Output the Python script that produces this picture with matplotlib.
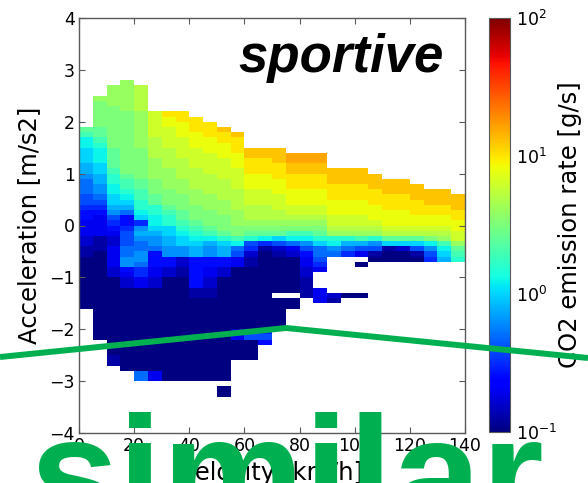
import numpy as np
import matplotlib
matplotlib.use("Agg")
import matplotlib.pyplot as plt
from matplotlib.colors import LogNorm
from matplotlib.lines import Line2D
from matplotlib.ticker import NullLocator

# Binning: 5 km/h in velocity, 0.1 m/s2 in acceleration
velocity_edges = np.arange(0, 141, 5)
accel_step = 0.1
accel_max = 2.8
accel_min = -3.3

# Upper acceleration edge of the first populated cell in each velocity bin
column_top = [1.9, 2.5, 2.7, 2.8, 2.7, 2.2, 2.2, 2.2, 2.1, 2.0, 1.9, 1.8, 1.5, 1.5,
              1.5, 1.4, 1.4, 1.4, 1.1, 1.1, 1.1, 1.0, 0.9, 0.9, 0.8, 0.7, 0.7, 0.6]

# Mean CO2 emission rate going down each velocity bin, one letter per 0.1 m/s2 cell:
# 'a' = 10^-1.0 g/s and every following letter adds 0.1 decade; '.' = no samples
column_rates = [
    "onllkkkjjihhhggfeedddccbb" + "a" * 10,
    "qpppppoonmlllkkjjiihgfeddddbbb" + "a" * 17,
    "qqqqppppppppoooonmmllkkjigfedccddddcc" + "a" * 15 + "bb",
    "qqqqqq" + "pppppppppppp" + "onnmlkjheefggghhiiedcc" + "a" * 16,
    "rrrrrqqqqqqqppppppoonnmmlkfijihhiihffdd" + "a" * 16 + "hh",
    "sssssrrrrqqqqpppoommllkjiiheeeddcc" + "a" * 16 + "dd",
    "uttssssrrrrqqqqppponmmkkjjiieecc" + "a" * 20,
    "uutttssssrrrrqqqpppoonmlkkiiccbb" + "a" * 20,
    "uuutttssssrrrrqqqppponmlkjjeeeeeebb" + "a" * 16,
    "uuutttssssrrrrqqqppponljiieeddccbb" + "a" * 16,
    "vuutttssssrrrrqqqpppomkjjeecc" + "a" * 20 + ".aa",
    "vuuutttssssrrrrqqqppnlhgdd" + "a" * 12 + "cdaaaa",
    "vvuuutttsssrrrqpomgfcbb" + "a" * 12 + "fgaaaa",
    "vvuuutttsssrrrqpolfb" + "a" * 15 + "fge",
    "vvvuuutttsssrrqpokgcb" + "a" * 7 + "." + "a" * 6,
    "wwvvuuutttssrqpnlhdc" + "a" * 7 + ".aa",
    "wwvvuuutttssrqpnligeddccbbbb",
    "wwvvuuutttssrqpomkhhgfd...ddd",
    "vvvuuutttssrqmlih.......cb",
    "vvvuuutttssrqmjhf.......a",
    "vvvuuutttssrqnjgd.a.....a",
    "vvvuuutttsrqmigba",
    "vvvuuutttsrokbaa",
    "vvvuuutttsrokcaa",
    "vvvuuuttsrokgba",
    "vvvuuttsrpligf",
    "vvvuuttsrqnlkj",
    "vvvuuttssqonm",
]

n_rows = int(round((accel_max - accel_min) / accel_step))
accel_edges = accel_max - accel_step * np.arange(n_rows + 1)
rate = np.full((n_rows, len(column_top)), np.nan)
for j, (top, code) in enumerate(zip(column_top, column_rates)):
    r0 = int(round((accel_max - top) / accel_step))
    for k, ch in enumerate(code):
        if ch != "." and r0 + k < n_rows:
            rate[r0 + k, j] = 10 ** (-1 + 0.1 * (ord(ch) - ord("a")))
rate = np.ma.masked_invalid(rate)

W, H = 588, 483
fig = plt.figure(figsize=(W / 100, H / 100), dpi=100)
fig.patch.set_facecolor("white")

ax = fig.add_axes([79 / W, 50 / H, 386 / W, 415 / H])
mesh = ax.pcolormesh(velocity_edges, accel_edges, rate, cmap="jet",
                     norm=LogNorm(vmin=0.1, vmax=100), shading="flat",
                     edgecolors="none", antialiased=False)
ax.set_xlim(0, 140)
ax.set_ylim(-4, 4)
ax.set_xticks(np.arange(0, 141, 20))
ax.set_yticks(np.arange(-4, 5, 1))
ax.tick_params(direction="in", top=True, right=True, length=4, width=0.8,
               color="0.35", labelsize=12.5, pad=3)
for sp in ax.spines.values():
    sp.set_edgecolor("0.35")
    sp.set_linewidth(1.0)
ax.set_xlabel("Velocity [km/h]", fontsize=17.5, labelpad=4)
ax.set_ylabel("Acceleration [m/s2]", fontsize=17.5, labelpad=6)

ax.text(0.945, 0.87, "sportive", transform=ax.transAxes, ha="right",
        va="baseline", fontsize=38, fontweight="bold", fontstyle="italic",
        family="Liberation Sans", color="black")

cax = fig.add_axes([489 / W, 51 / H, 21 / W, 414 / H])
cb = fig.colorbar(mesh, cax=cax, ticks=[0.1, 1, 10, 100])
cax.yaxis.set_minor_locator(NullLocator())
cax.tick_params(labelsize=12.5, length=0, pad=4)
cb.outline.set_edgecolor("0.35")
cb.set_label("CO2 emission rate [g/s]", fontsize=17.5, labelpad=1)

# Highlight overlay drawn across the figure
overlay_x = [0, 286, 588]
overlay_y = [357, 328, 358]
fig.add_artist(Line2D(np.array(overlay_x) / W, 1 - np.array(overlay_y) / H,
                      transform=fig.transFigure, color="#00B050", lw=4.3,
                      solid_capstyle="butt", zorder=10))
fig.text(29 / W, 1 - 528 / H, "similar", fontsize=115, family="Liberation Sans",
         fontweight="bold", color="#00B050", ha="left", va="baseline", zorder=11)

fig.savefig("out.png", dpi=100, facecolor="white")
